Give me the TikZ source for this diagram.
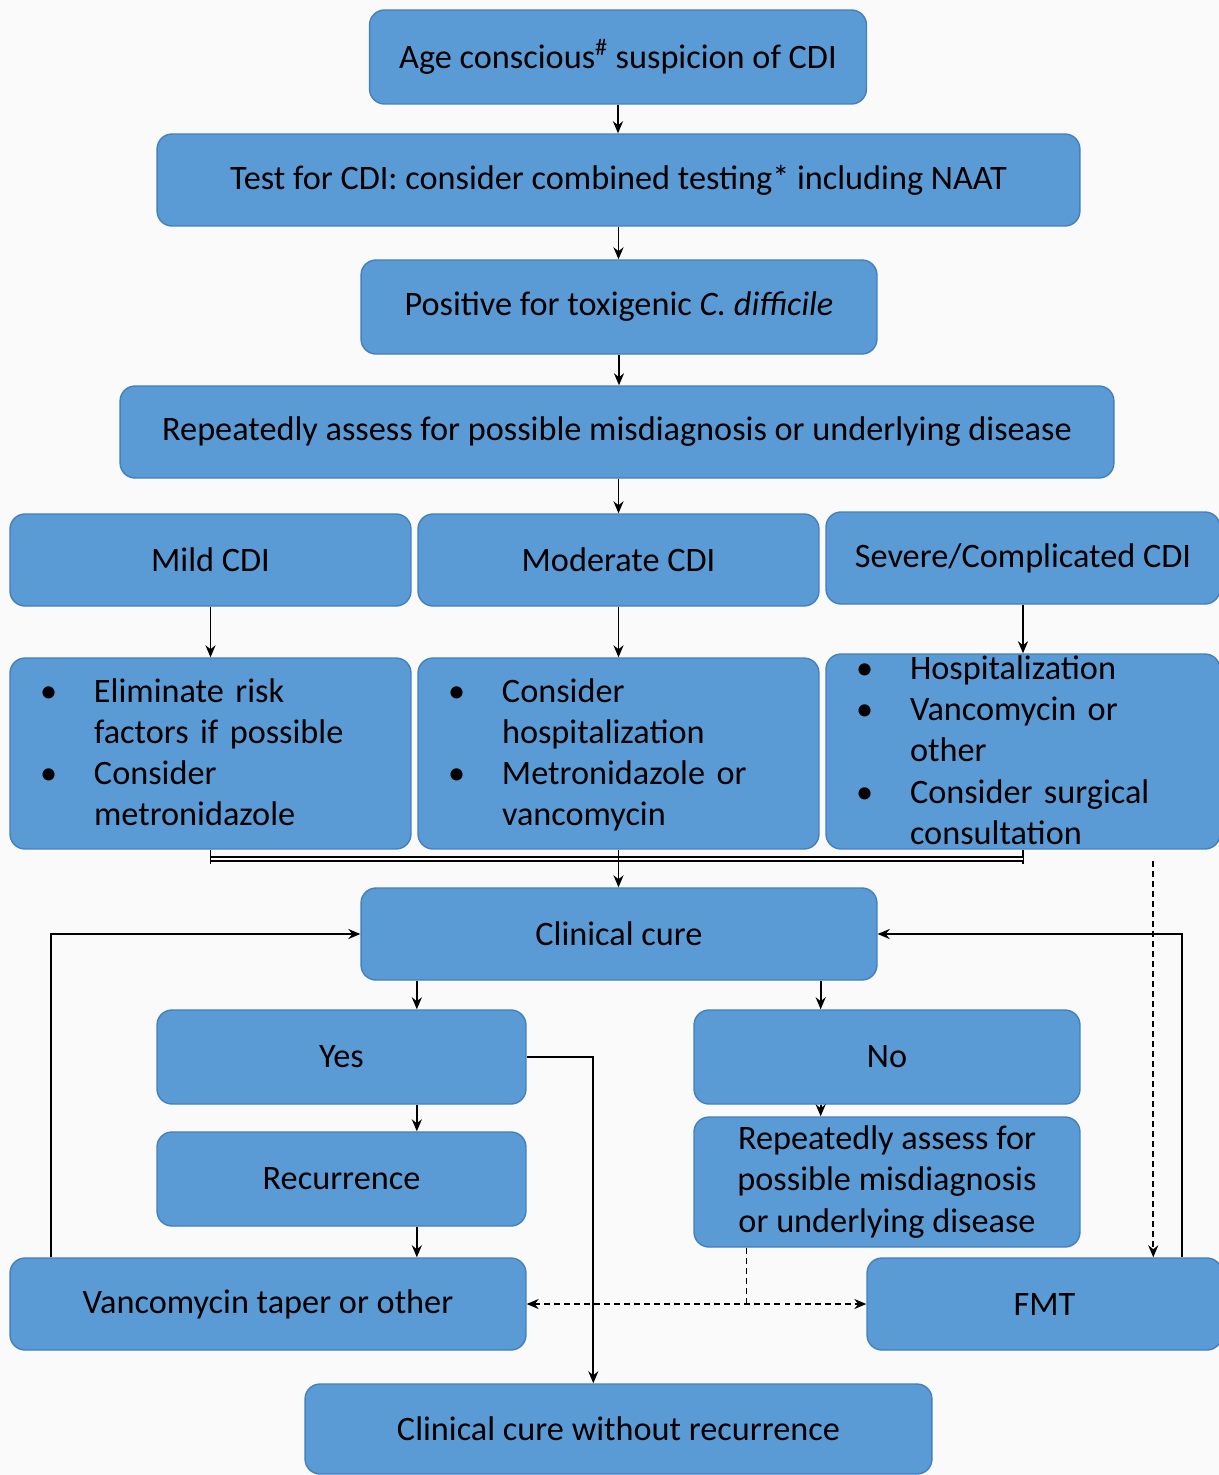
\documentclass[tikz,border=0pt]{standalone}
\usepackage{fontspec}
\setmainfont{Carlito}
\usepackage{tikz}
\usetikzlibrary{arrows.meta}
\usepackage{xcolor}

\definecolor{boxblue}{RGB}{91,155,213}
\definecolor{boxedge}{RGB}{66,128,190}
\newcommand{\boxfont}{\fontsize{19.5}{23.5}\selectfont}
\newcommand{\bulletlist}[1]{\smash{\raisebox{-0.33em}{%
    \begin{tabular}[c]{@{}p{1.08cm}@{}l@{}}#1\end{tabular}}}}

\begin{document}
\begin{tikzpicture}[
    x=0.02cm, y=-0.02cm,
    >={Stealth[length=0.24cm, width=0.2cm]},
    flowbox/.style={rectangle, rounded corners=0.3cm, draw=boxedge, thick,
                fill=boxblue, minimum height=1.84cm, align=center,
                font=\boxfont, text=black},
    listbox/.style={flowbox, align=left, inner xsep=0.6cm, text width=#1},
    arr/.style={->, line width=1.1pt, black},
    link/.style={line width=1.1pt, black},
    dasharr/.style={->, dashed, line width=0.9pt, black,
                dash pattern=on 3.4pt off 2.3pt},
]
\useasboundingbox (0,0) rectangle (1219,1475);
\fill[white!98!black] (0,0) rectangle (1219,1475);

% top of the chain
\node[flowbox, minimum width=9.94cm, minimum height=1.88cm] (ageq) at (618,57)
    {Age conscious\textsuperscript{\#} suspicion of CDI};
\node[flowbox, minimum width=18.46cm] (testcdi) at (618.5,180)
    {Test for CDI: consider combined testing* including NAAT};
\node[flowbox, minimum width=10.32cm, minimum height=1.88cm] (positive) at (619,307)
    {Positive for toxigenic \textit{C. difficile}};
\node[flowbox, minimum width=19.88cm] (assess) at (617,432)
    {Repeatedly assess for possible misdiagnosis or underlying disease};

% severity columns
\node[flowbox, minimum width=8.02cm] (mild) at (210.5,560) {Mild CDI};
\node[flowbox, minimum width=8.02cm] (moderate) at (618.5,560) {Moderate CDI};
\node[flowbox, minimum width=7.88cm] (severe) at (1023,558) {Severe/Complicated CDI};

\node[listbox=6.82cm, minimum height=3.82cm] (mildtx) at (210.5,753.5)
    {\bulletlist{\textbullet & Eliminate risk\\ & factors if possible\\
                 \textbullet & Consider\\ & metronidazole}};
\node[listbox=6.82cm, minimum height=3.82cm] (modtx) at (618.5,753.5)
    {\bulletlist{\textbullet & Consider\\ & hospitalization\\
                 \textbullet & Metronidazole or\\ & vancomycin}};
\node[listbox=6.68cm, minimum height=3.9cm] (sevtx) at (1023,751.5)
    {\bulletlist{\textbullet & Hospitalization\\ \textbullet & Vancomycin or\\ & other\\
                 \textbullet & Consider surgical\\ & consultation}};

% outcome
\node[flowbox, minimum width=10.32cm] (cure) at (619,934) {Clinical cure};
\node[flowbox, minimum width=7.38cm, minimum height=1.88cm] (yes) at (341.5,1057) {Yes};
\node[flowbox, minimum width=7.72cm, minimum height=1.88cm] (no) at (887,1057) {No};
\node[flowbox, minimum width=7.38cm, minimum height=1.88cm] (recur) at (341.5,1179) {Recurrence};
\node[flowbox, minimum width=7.72cm, minimum height=2.6cm] (assess2) at (887,1182)
    {Repeatedly assess for\\possible misdiagnosis\\or underlying disease};
\node[flowbox, minimum width=10.32cm] (vanco) at (268,1304) {Vancomycin taper or other};
\node[flowbox, minimum width=7.1cm] (fmt) at (1044.5,1304) {FMT};
\node[flowbox, minimum width=12.54cm, minimum height=1.8cm] (curenr) at (618.5,1429)
    {Clinical cure without recurrence};

\coordinate (lx) at ([xshift=1.13cm]cure.south west);
\coordinate (rx) at ([xshift=-1.14cm]cure.south east);
\coordinate (bl) at ([yshift=-0.28cm]mildtx.south);
\coordinate (br) at ([yshift=-0.28cm]sevtx.south);

\draw[arr] (ageq.south) -- (ageq.south |- testcdi.north);
\draw[arr] (testcdi.south) -- (testcdi.south |- positive.north);
\draw[arr] (positive.south) -- (positive.south |- assess.north);
\draw[arr] (moderate.north |- assess.south) -- (moderate.north);
\draw[arr] (mild) -- (mildtx);
\draw[arr] (moderate) -- (modtx);
\draw[arr] (severe) -- (sevtx.north);
% bracket joining the three treatments
\draw[link] (mildtx.south) -- (bl);
\draw[link] (sevtx.south) -- (br);
\draw[link, double, double distance=1.2pt] ([yshift=0.09cm]bl) -- ([yshift=0.09cm]bl -| br);
\draw[arr] (modtx.south) -- (modtx.south |- cure.north);
\draw[arr] (lx) -- (lx |- yes.north);
\draw[arr] (rx) -- (rx |- no.north);
\draw[arr] (yes.south -| lx) -- (lx |- recur.north);
\draw[arr] (recur.south -| lx) -- (lx |- vanco.north);
\draw[arr] (no.south -| rx) -- (rx |- assess2.north);
\draw[arr] ([xshift=0.84cm]vanco.north west) |- (cure.west);
\draw[arr] ([xshift=6.32cm]fmt.north west) |- (cure.east);
\draw[arr] (yes.east) -| ([xshift=5.78cm]curenr.north west);
\draw[dasharr] ([xshift=6.56cm, yshift=-0.22cm]sevtx.south west)
    -- ([xshift=6.56cm]sevtx.south west |- fmt.north);
\draw[dasharr, -] ([xshift=1.06cm]assess2.south west)
    -- ([xshift=1.06cm]assess2.south west |- fmt.west);
\draw[dasharr, <->] (vanco.east) -- (fmt.west);
\end{tikzpicture}
\end{document}
